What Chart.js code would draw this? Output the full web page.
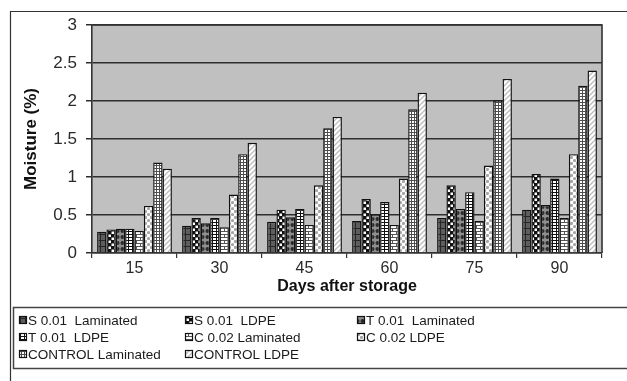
<!DOCTYPE html>
<html>
<head>
<meta charset="utf-8">
<script src="https://cdn.jsdelivr.net/npm/chart.js@4.4.1/dist/chart.umd.min.js"></script>
<style>
  html, body { margin: 0; padding: 0; background: #fff; }
  #moisture { display: block; }
</style>
</head>
<body>
<canvas id="moisture" width="627" height="381"></canvas>
<script>
// days after storage
const days = ['15', '30', '45', '60', '75', '90'];
const yTickLabels = ['0', '0.5', '1', '1.5', '2', '2.5', '3'];

// moisture (%) per treatment
const s001Laminated     = [0.28, 0.36, 0.41, 0.42, 0.46, 0.57];
const s001Ldpe          = [0.31, 0.46, 0.57, 0.71, 0.89, 1.04];
const t001Laminated     = [0.32, 0.39, 0.47, 0.51, 0.58, 0.63];
const t001Ldpe          = [0.32, 0.46, 0.58, 0.67, 0.80, 0.98];
const c002Laminated     = [0.29, 0.34, 0.37, 0.37, 0.42, 0.46];
const c002Ldpe          = [0.62, 0.77, 0.89, 0.98, 1.15, 1.30];
const controlLaminated  = [1.19, 1.30, 1.64, 1.89, 2.01, 2.20];
const controlLdpe       = [1.11, 1.45, 1.79, 2.11, 2.29, 2.40];

const seriesNames = ['S 0.01  Laminated', 'S 0.01  LDPE', 'T 0.01  Laminated', 'T 0.01  LDPE',
                     'C 0.02 Laminated', 'C 0.02 LDPE', 'CONTROL Laminated', 'CONTROL LDPE'];
const seriesData = [s001Laminated, s001Ldpe, t001Laminated, t001Ldpe,
                    c002Laminated, c002Ldpe, controlLaminated, controlLdpe];

// --- fill patterns, excel style ---
const tmpCtx = document.createElement('canvas').getContext('2d');
function makePattern(w, h, draw) {
  const c = document.createElement('canvas');
  c.width = w; c.height = h;
  const g = c.getContext('2d');
  draw(g, w, h);
  return tmpCtx.createPattern(c, 'repeat');
}

const patterns = [
  // dark grey with black grid
  makePattern(5, 6, (g, w, h) => {
    g.fillStyle = '#5e5e5e'; g.fillRect(0, 0, w, h);
    g.fillStyle = '#262626'; g.fillRect(0, 0, w, 1); g.fillRect(0, 0, 1, h);
  }),
  // black with white checks
  makePattern(6, 6, (g, w, h) => {
    g.fillStyle = '#111'; g.fillRect(0, 0, w, h);
    g.fillStyle = '#fff'; g.fillRect(0.5, 0.5, 2.5, 2.5); g.fillRect(3.5, 3.5, 2.5, 2.5);
  }),
  // grey with dark balls
  makePattern(5, 6, (g, w, h) => {
    g.fillStyle = '#8e8e8e'; g.fillRect(0, 0, w, h);
    g.fillStyle = '#2a2a2a'; g.beginPath(); g.arc(2.5, 3, 2, 0, Math.PI * 2); g.fill();
  }),
  // white blocks in black grid
  makePattern(4, 3, (g, w, h) => {
    g.fillStyle = '#fff'; g.fillRect(0, 0, w, h);
    g.fillStyle = '#111'; g.fillRect(0, 0, w, 1); g.fillRect(0, 0, 1, h);
  }),
  // white brick
  makePattern(8, 6, (g, w, h) => {
    g.fillStyle = '#fff'; g.fillRect(0, 0, w, h);
    g.fillStyle = '#555';
    g.fillRect(0, 0, w, 1); g.fillRect(0, 3, w, 1);
    g.fillRect(0, 0, 1, 3); g.fillRect(4, 3, 1, 3);
  }),
  // white with grey balls
  makePattern(6, 6, (g, w, h) => {
    g.fillStyle = '#fff'; g.fillRect(0, 0, w, h);
    g.fillStyle = '#a6a6a6';
    g.beginPath(); g.arc(1.5, 1.5, 1.6, 0, Math.PI * 2); g.fill();
    g.beginPath(); g.arc(4.5, 4.5, 1.6, 0, Math.PI * 2); g.fill();
  }),
  // fine grid
  makePattern(3, 3, (g, w, h) => {
    g.fillStyle = '#fff'; g.fillRect(0, 0, w, h);
    g.fillStyle = '#4e4e4e'; g.fillRect(0, 0, w, 1); g.fillRect(0, 0, 1, h);
  }),
  // light diagonal hatch
  makePattern(5, 5, (g, w, h) => {
    g.fillStyle = '#fff'; g.fillRect(0, 0, w, h);
    g.strokeStyle = '#bdbdbd'; g.lineWidth = 1.4;
    g.beginPath();
    g.moveTo(-1, h + 1); g.lineTo(w + 1, -1);
    g.moveTo(-1, 1); g.lineTo(1, -1);
    g.moveTo(w - 1, h + 1); g.lineTo(w + 1, h - 1);
    g.stroke();
  })
];

const FONT = 'Liberation Sans, Arial, sans-serif';

// grey plot area, frame and the legend box underneath
const decor = {
  id: 'decor',
  beforeDraw(chart) {
    const { ctx, chartArea: a } = chart;
    ctx.save();
    ctx.fillStyle = '#c0c0c0';
    ctx.fillRect(a.left, a.top, a.right - a.left, a.bottom - a.top);
    ctx.strokeStyle = '#333';
    ctx.lineWidth = 1.2;
    ctx.beginPath();
    ctx.moveTo(10.5, 381); ctx.lineTo(10.5, 11.5); ctx.lineTo(627, 11.5);
    ctx.stroke();
    ctx.restore();
  },
  beforeDatasetsDraw(chart) {
    const { ctx, chartArea: a } = chart;
    ctx.save();
    ctx.strokeStyle = '#333';
    ctx.lineWidth = 1.6;
    ctx.beginPath();
    ctx.moveTo(a.left, a.top); ctx.lineTo(a.right, a.top); ctx.lineTo(a.right, a.bottom);
    ctx.stroke();
    ctx.restore();
  },
  afterDraw(chart) {
    const { ctx } = chart;
    ctx.save();
    ctx.strokeStyle = '#444';
    ctx.lineWidth = 1.5;
    ctx.beginPath();
    ctx.moveTo(627, 307.5); ctx.lineTo(13.5, 307.5); ctx.lineTo(13.5, 368.5); ctx.lineTo(627, 368.5);
    ctx.stroke();

    const colX = [19, 185, 357];
    const rowY = [320, 337, 354];
    ctx.font = '13.5px ' + FONT;
    ctx.textBaseline = 'middle';
    chart.data.datasets.forEach((ds, i) => {
      const x = colX[i % 3], y = rowY[Math.floor(i / 3)];
      ctx.fillStyle = ds.backgroundColor;
      ctx.fillRect(x, y - 4, 8, 8);
      ctx.strokeStyle = '#111';
      ctx.lineWidth = 1.2;
      ctx.strokeRect(x + 0.5, y - 3.5, 7, 7);
      ctx.fillStyle = '#1a1a1a';
      ctx.fillText(ds.label, x + 9, y + 1);
    });
    ctx.restore();
  }
};

const chart = new Chart(document.getElementById('moisture'), {
  type: 'bar',
  data: {
    labels: days,
    datasets: seriesData.map((d, i) => ({
      label: seriesNames[i],
      data: d,
      backgroundColor: patterns[i],
      borderColor: '#111',
      borderWidth: 1.4,
      categoryPercentage: 0.88,
      barPercentage: 1.0
    }))
  },
  options: {
    responsive: false,
    animation: false,
    layout: { padding: { left: 12, top: 25, right: 25, bottom: 81 } },
    plugins: { legend: { display: false }, tooltip: { enabled: false } },
    scales: {
      x: {
        afterFit: (s) => { s.height = 47; },
        grid: { drawOnChartArea: false, offset: true, tickLength: 5, color: '#333', lineWidth: 1.2 },
        border: { color: '#333', width: 1.6 },
        ticks: { color: '#2a2a2a', padding: 1, font: { family: FONT, size: 16 }, maxRotation: 0 },
        title: {
          display: true, text: 'Days after storage', color: '#111',
          font: { family: FONT, size: 16, weight: 'bold' }, padding: { top: 0, bottom: 4 }
        }
      },
      y: {
        min: 0, max: 3,
        afterFit: (s) => { s.width = 80; },
        grid: { color: '#2e2e2e', lineWidth: 1.5, tickLength: 6 },
        border: { color: '#333', width: 1.6 },
        ticks: {
          stepSize: 0.5, color: '#2a2a2a', padding: 9,
          font: { family: FONT, size: 17 },
          callback: (v, i) => yTickLabels[i]
        },
        title: {
          display: true, text: 'Moisture (%)', color: '#111',
          font: { family: FONT, size: 17, weight: 'bold' }, padding: { top: 9, bottom: 0 }
        }
      }
    }
  },
  plugins: [decor]
});
</script>
</body>
</html>
